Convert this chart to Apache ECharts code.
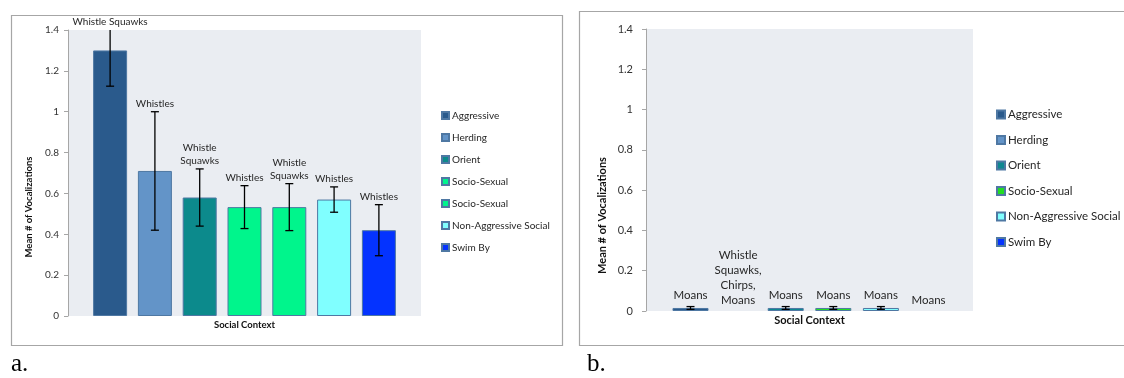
<!DOCTYPE html>
<html>
<head>
<meta charset="utf-8">
<script src="https://cdn.jsdelivr.net/npm/echarts@6/dist/echarts.min.js"></script>
<style>
  html, body { margin: 0; padding: 0; background: #fff; }
  #chart { width: 1124px; height: 378px; }
</style>
</head>
<body>
<div id="chart"></div>
<script>
// Panel a: mean vocalizations per social context (whistle-type calls)
const contextsA = ['Aggressive', 'Herding', 'Orient', 'Socio-Sexual', 'Socio-Sexual', 'Non-Aggressive Social', 'Swim By'];
const meansA = [1.30, 0.71, 0.58, 0.533, 0.533, 0.57, 0.42];
const errorsA = [0.175, 0.29, 0.14, 0.105, 0.115, 0.062, 0.125];
const callTypesA = ['Whistle Squawks', 'Whistles', 'Whistle\nSquawks', 'Whistles', 'Whistle\nSquawks', 'Whistles', 'Whistles'];
const coloursA = ['#2a5a8c', '#6394c8', '#0c8a8c', '#00f58c', '#00f58c', '#80ffff', '#0433ff'];

// Panel b: mean vocalizations per social context (moans)
const contextsB = ['Aggressive', 'Herding', 'Orient', 'Socio-Sexual', 'Non-Aggressive Social', 'Swim By'];
const meansB = [0.015, 0, 0.015, 0.015, 0.015, 0];
const errorsB = [0.007, null, 0.007, 0.007, 0.007, null];
const callTypesB = ['Moans', 'Whistle\nSquawks,\nChirps,\nMoans', 'Moans', 'Moans', 'Moans', 'Moans'];
const coloursB = ['#2a5a8c', '#6394c8', '#0e8790', '#22dd22', '#80ffff', '#0433ff'];

// Shared value axis
const yTicks = [0, 0.2, 0.4, 0.6, 0.8, 1, 1.2, 1.4];
const yMin = yTicks[0], yMax = yTicks[yTicks.length - 1], yStep = 0.2;

const FONT = 'Lato, "Open Sans", sans-serif';
const TEXT = '#262626';
const AXIS = '#a6a6a6';

// Series names carry a panel/index suffix so duplicate context names stay separate legend items
const keyOf = (name, panel, i) => name + '|' + panel + i;
const stripKey = (n) => n.split('|')[0];

function barSeries(panel, gridIdx, names, means, colours, barWidth) {
  return names.map((name, i) => ({
    type: 'bar',
    name: keyOf(name, panel, i),
    xAxisIndex: gridIdx,
    yAxisIndex: gridIdx,
    barWidth: barWidth,
    barGap: '-100%',
    silent: true,
    itemStyle: { color: colours[i], borderColor: '#4f78a3', borderWidth: 1 },
    data: means[i] > 0 ? [[i, means[i]]] : [],
    z: 2
  }));
}

function errorSeries(gridIdx, means, errors, labels, opts) {
  return {
    type: 'custom',
    xAxisIndex: gridIdx,
    yAxisIndex: gridIdx,
    silent: true,
    z: 5,
    data: means.map((m, i) => [i, m, errors[i] == null ? 0 : errors[i]]),
    encode: { x: 0, y: 1 },
    renderItem(params, api) {
      const i = api.value(0), m = api.value(1), e = api.value(2);
      const children = [];
      let topVal = m;
      if (e > 0) {
        const hi = Math.min(m + e, yMax);
        const lo = Math.max(m - e, yMin);
        const pHi = api.coord([i, hi]);
        const pLo = api.coord([i, lo]);
        const stroke = { stroke: '#000', lineWidth: 1.3 };
        children.push({ type: 'line', shape: { x1: pHi[0], y1: pHi[1], x2: pLo[0], y2: pLo[1] }, style: stroke });
        const half = opts.cap / 2;
        if (m + e <= yMax) {
          children.push({ type: 'line', shape: { x1: pHi[0] - half, y1: pHi[1], x2: pHi[0] + half, y2: pHi[1] }, style: stroke });
        }
        children.push({ type: 'line', shape: { x1: pLo[0] - half, y1: pLo[1], x2: pLo[0] + half, y2: pLo[1] }, style: stroke });
        topVal = hi;
      }
      const pTop = api.coord([i, topVal]);
      children.push({
        type: 'text',
        style: {
          text: labels[params.dataIndex],
          x: pTop[0],
          y: pTop[1] - opts.labelGap,
          align: 'center',
          verticalAlign: 'bottom',
          fontFamily: FONT,
          fontSize: opts.fontSize,
          lineHeight: opts.lineHeight,
          fill: TEXT
        }
      });
      return { type: 'group', children };
    }
  };
}

function yAxisFor(gridIdx, fontSize, margin) {
  return {
    gridIndex: gridIdx,
    type: 'value',
    position: 'left',
    min: yMin,
    max: yMax,
    interval: yStep,
    axisLine: { show: true, onZero: false, lineStyle: { color: AXIS, width: 1 } },
    axisTick: { show: true, length: 4, lineStyle: { color: AXIS } },
    axisLabel: { fontFamily: FONT, fontSize: fontSize, color: '#333', margin: margin },
    splitLine: { show: false }
  };
}

function xAxisFor(gridIdx, min, max, fontSize, gap) {
  return {
    gridIndex: gridIdx,
    type: 'value',
    position: 'bottom',
    min: min,
    max: max,
    name: 'Social Context',
    nameLocation: 'middle',
    nameGap: gap,
    nameTextStyle: { fontFamily: FONT, fontSize: fontSize, fontWeight: 'bold', color: '#111' },
    axisLine: { show: false, onZero: false },
    axisTick: { show: false },
    axisLabel: { show: false },
    splitLine: { show: false }
  };
}

const chart = echarts.init(document.getElementById('chart'), null, { renderer: 'canvas' });

chart.setOption({
  animation: false,
  backgroundColor: '#ffffff',
  grid: [
    { left: 68, top: 30, width: 353, height: 286, show: true, backgroundColor: '#eaedf2', borderWidth: 0 },
    { left: 646, top: 29, width: 327, height: 282, show: true, backgroundColor: '#eaedf2', borderWidth: 0 }
  ],
  xAxis: [
    xAxisFor(0, -0.94, 6.94, 9.5, 4),
    xAxisFor(1, -0.935, 5.935, 11, 4)
  ],
  yAxis: [
    yAxisFor(0, 10, 9),
    yAxisFor(1, 11, 13)
  ],
  legend: [
    {
      orient: 'vertical', left: 441, top: 109.5, padding: 0,
      itemWidth: 7, itemHeight: 7, itemGap: 10, icon: 'rect', selectedMode: false,
      data: contextsA.map((n, i) => keyOf(n, 'a', i)),
      formatter: stripKey,
      textStyle: { fontFamily: FONT, fontSize: 10, lineHeight: 12, color: TEXT, padding: [0, 0, 0, -2] }
    },
    {
      orient: 'vertical', left: 996, top: 107.5, padding: 0,
      itemWidth: 8, itemHeight: 8, itemGap: 11.5, icon: 'rect', selectedMode: false,
      data: contextsB.map((n, i) => keyOf(n, 'b', i)),
      formatter: stripKey,
      textStyle: { fontFamily: FONT, fontSize: 11.5, lineHeight: 14, color: TEXT, padding: [0, 0, 0, -2] }
    }
  ],
  series: [
    ...barSeries('a', 0, contextsA, meansA, coloursA, 34),
    errorSeries(0, meansA, errorsA, callTypesA, { cap: 8, labelGap: 1, fontSize: 10, lineHeight: 13.5 }),
    ...barSeries('b', 1, contextsB, meansB, coloursB, 36),
    errorSeries(1, meansB, errorsB, callTypesB, { cap: 8, labelGap: 3.5, fontSize: 11.5, lineHeight: 15 })
  ],
  graphic: [
    // panel frames
    { type: 'rect', shape: { x: 11.5, y: 15.5, width: 551, height: 330 }, style: { fill: 'none', stroke: AXIS, lineWidth: 1.2 }, silent: true },
    { type: 'rect', shape: { x: 579.5, y: 11.5, width: 560, height: 334 }, style: { fill: 'none', stroke: AXIS, lineWidth: 1.2 }, silent: true },
    // vertical axis titles
    { type: 'text', x: 29, y: 207, rotation: Math.PI / 2, silent: true,
      style: { text: 'Mean # of Vocalizations', align: 'center', verticalAlign: 'middle', fontFamily: FONT, fontSize: 9.5, fontWeight: 'bold', fill: '#111' } },
    { type: 'text', x: 602, y: 215.5, rotation: Math.PI / 2, silent: true,
      style: { text: 'Mean # of Vocalizations', align: 'center', verticalAlign: 'middle', fontFamily: FONT, fontSize: 11, fontWeight: 'bold', fill: '#111' } },
    // panel letters
    { type: 'text', x: 11, y: 377, silent: true,
      style: { text: 'a.', align: 'left', verticalAlign: 'bottom', fontFamily: '"Liberation Serif", "DejaVu Serif", serif', fontSize: 25, fill: '#000' } },
    { type: 'text', x: 587, y: 377, silent: true,
      style: { text: 'b.', align: 'left', verticalAlign: 'bottom', fontFamily: '"Liberation Serif", "DejaVu Serif", serif', fontSize: 25, fill: '#000' } }
  ]
});
</script>
</body>
</html>
